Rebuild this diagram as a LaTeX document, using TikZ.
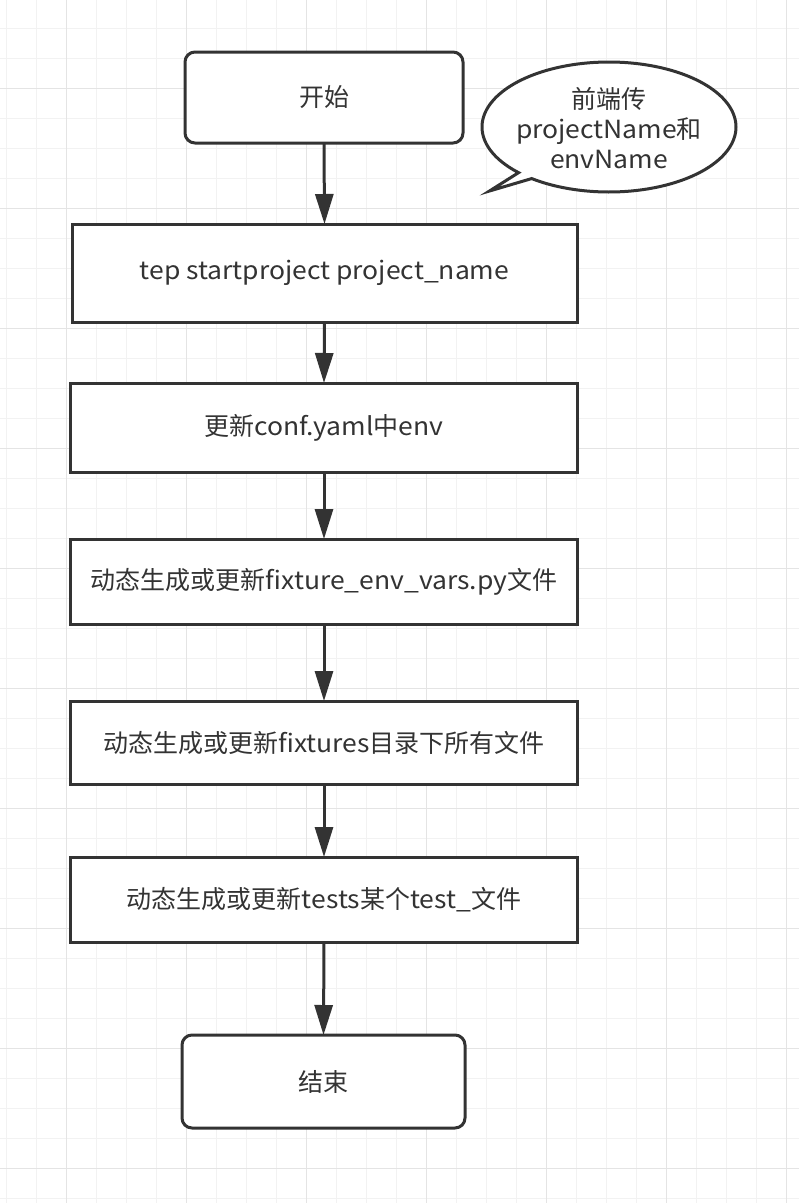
\documentclass[tikz,border=0pt]{standalone}
\usepackage{fontspec}
\setmainfont{Noto Sans CJK SC}[FakeStretch=1.06]
\newfontfamily\cjkfont{Noto Sans CJK SC}
\newcommand\zh[1]{{\cjkfont #1}}
\usetikzlibrary{arrows.meta}
\definecolor{ink}{HTML}{333333}
\definecolor{gridminor}{HTML}{F2F2F2}
\definecolor{gridmajor}{HTML}{E4E4E4}
\begin{document}
\begin{tikzpicture}[x=1pt,y=-1pt,
  box/.style={draw=ink, line width=3pt, fill=white, inner sep=0pt, outer sep=0pt,
    text=ink, font=\fontsize{25}{30}\selectfont, align=center},
  termbox/.style={box, rounded corners=10pt},
  flow/.style={draw=ink, line width=3pt, -{Triangle[length=30pt,width=18pt]}},
  minorline/.style={draw=gridminor, line width=1pt},
  majorline/.style={draw=gridmajor, line width=1pt},
]
\fill[white] (0,0) rectangle (799,1203);
\useasboundingbox (0,0) rectangle (799,1203);
% grid
\foreach \i in {0,...,26} {\draw[minorline] ({6+30*\i},0) -- ({6+30*\i},1203);}
\foreach \i in {0,...,39} {\draw[minorline] (0,{28+30*\i}) -- (799,{28+30*\i});}
\foreach \i in {0,...,6} {\draw[majorline] ({66+120*\i},0) -- ({66+120*\i},1203);}
\foreach \i in {0,...,9} {\draw[majorline] (0,{88+120*\i}) -- (799,{88+120*\i});}

% nodes
\node[termbox, minimum width=278pt, minimum height=91pt] (start) at (324,97.5) {\zh{开始}};
\node[box, minimum width=505pt, minimum height=98pt] (b1) at (324.5,273) {tep startproject project\_name};
\node[box, minimum width=507pt, minimum height=89pt] (b2) at (324,427.5) {\zh{更新}conf.yaml\zh{中}env};
\node[box, minimum width=507pt, minimum height=85pt] (b3) at (324,581.5) {\zh{动态生成或更新}fixture\_env\_vars.py\zh{文件}};
\node[box, minimum width=507pt, minimum height=83pt] (b4) at (324,742.5) {\zh{动态生成或更新}fixtures\zh{目录下所有文件}};
\node[box, minimum width=507pt, minimum height=85pt] (b5) at (324,899.5) {\zh{动态生成或更新}tests\zh{某个}test\_\zh{文件}};
\node[termbox, minimum width=283pt, minimum height=93pt] (end) at (323.5,1081.5) {\zh{结束}};

% callout
\draw[draw=ink, line width=3pt, fill=white, line join=miter]
  plot[domain=135.4:487.5, samples=200] ({609+127*cos(\x)},{127+65*sin(\x)})
  -- (489.5,191) -- cycle;
\node[text=ink, font=\fontsize{25}{30}\selectfont, align=center, inner sep=0pt] (note) at (609,128.5)
  {\zh{前端传}\\projectName\zh{和}\\envName};

% connectors
\draw[flow] (start.south) -- (b1.north);
\draw[flow] (b1.south) -- (b2.north);
\draw[flow] (b2.south) -- (b3.north);
\draw[flow] (b3.south) -- (b4.north);
\draw[flow] (b4.south) -- (b5.north);
\draw[flow] (b5.south) -- (end.north);
\end{tikzpicture}
\end{document}
